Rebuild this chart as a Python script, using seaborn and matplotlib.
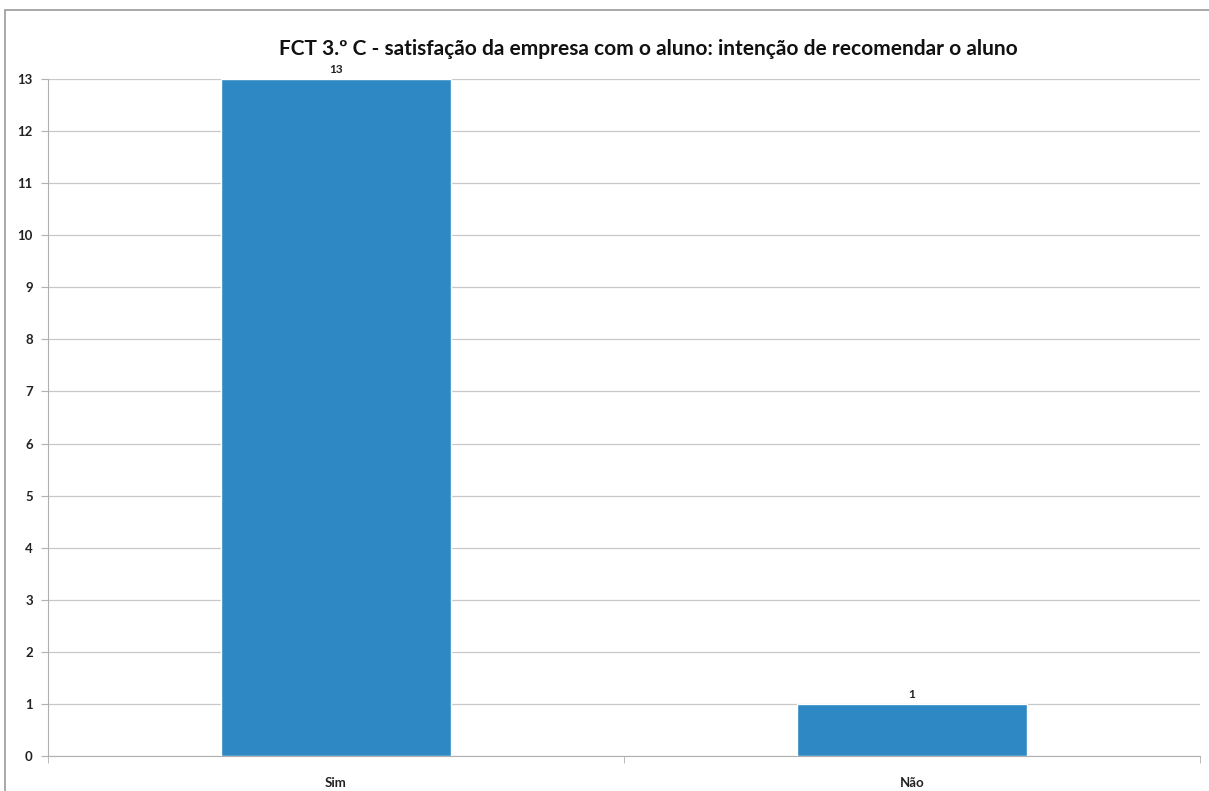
import matplotlib
matplotlib.use('Agg')
import matplotlib.pyplot as plt
import seaborn as sns
import pandas as pd
from matplotlib.patches import Rectangle

# Chart data
categories = ['Sim', 'Não']
counts = [13, 1]
title = 'FCT 3.º C - satisfação da empresa com o aluno: intenção de recomendar o aluno'

df = pd.DataFrame({'Resposta': categories, 'Total': counts})

sns.set_style('white')
plt.rcParams['font.family'] = ['Lato', 'DejaVu Sans']

fig = plt.figure(figsize=(12.09, 7.91), dpi=100)
ax = fig.add_axes([0.0397, 0.0442, 0.9529, 0.8559])

sns.barplot(data=df, x='Resposta', y='Total', color='#2E88C4', width=0.4,
            saturation=1, ax=ax, zorder=3)

# value labels above the bars
for cont in ax.containers:
    ax.bar_label(cont, fontsize=8.5, fontweight='bold', padding=3, color='#222222')

ax.set_ylim(0, 13)
ax.set_xlim(-0.5, 1.5)
ax.set_yticks(range(0, 14))
ax.yaxis.grid(True, color='#c8c8c8', linewidth=0.9, zorder=0)
ax.set_xlabel('')
ax.set_ylabel('')
for s in ['top', 'right']:
    ax.spines[s].set_visible(False)
ax.spines['left'].set_color('#b0b0b0')
ax.spines['bottom'].set_color('#b0b0b0')

ax.tick_params(axis='y', length=5, color='#b0b0b0', labelsize=9.5, left=True, pad=6)
ax.tick_params(axis='x', length=0, labelsize=9.5, pad=15)
for lbl in ax.get_yticklabels() + ax.get_xticklabels():
    lbl.set_fontweight('bold')
    lbl.set_color('#222222')

# category boundary ticks on the x axis
ax.set_xticks([-0.5, 0.5, 1.5], minor=True)
ax.tick_params(axis='x', which='minor', length=5, color='#b0b0b0', bottom=True)

fig.text(0.536, 1 - 55 / 791, title, ha='center', va='baseline', fontsize=15,
         fontweight='bold', color='#111111')

# outer chart frame
fig.patches.append(Rectangle((5 / 1209, -0.01), 1.02, 1 - 10 / 791 + 0.01,
                             transform=fig.transFigure, fill=False,
                             edgecolor='#9a9a9a', linewidth=1.2))

fig.savefig('out.png', dpi=100)
